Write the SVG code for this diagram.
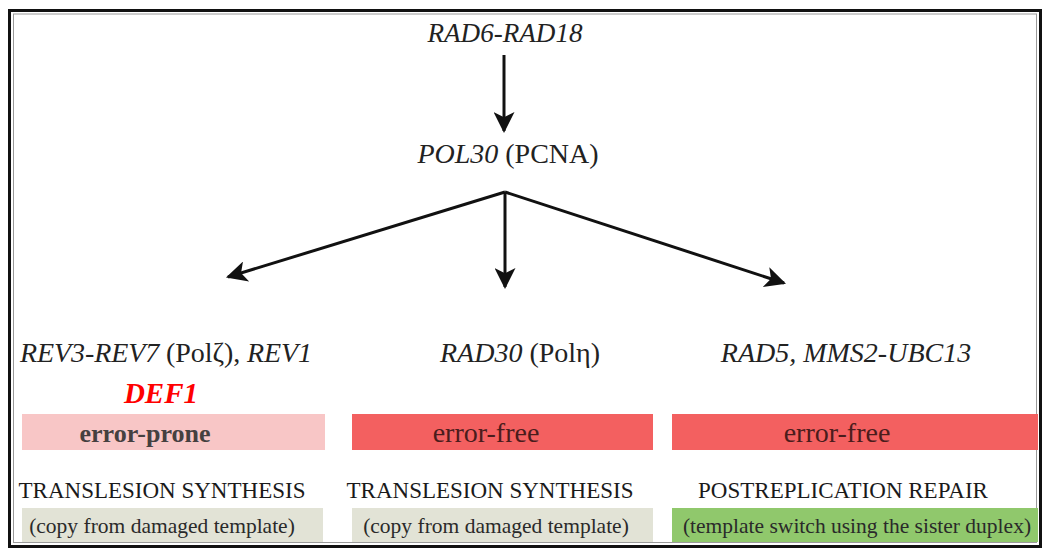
<svg xmlns="http://www.w3.org/2000/svg" width="1045" height="554" viewBox="0 0 1045 554">
<style>
.t{font-family:"Liberation Serif","Times New Roman",serif;fill:#222}
.i{font-style:italic}
.big{font-size:28px}
.cap{font-size:23px;fill:#1a1a1a}
.sub{font-size:21.5px;fill:#2a2a2a}
.ef{font-size:28px;fill:#4a1c1c}
.ln{stroke:#111;stroke-width:3;fill:none}
</style>
<defs>
<marker id="ah" viewBox="0 0 10 10" refX="9" refY="5" markerWidth="7.5" markerHeight="7" markerUnits="strokeWidth" orient="auto">
<path d="M0,0 L10,5 L0,10 L2.5,5 Z" fill="#111"/>
</marker>
</defs>
<rect x="0" y="0" width="1045" height="554" fill="#fff"/>
<rect x="9.5" y="10.5" width="1031" height="536" fill="none" stroke="#111" stroke-width="3"/>
<rect x="13.5" y="14" width="1023" height="528.5" fill="none" stroke="#9a9a9a" stroke-width="1"/>

<g id="connectors">
<line class="ln" x1="504" y1="55" x2="504" y2="131" marker-end="url(#ah)"/>
<line class="ln" x1="505" y1="192" x2="228" y2="277" marker-end="url(#ah)"/>
<line class="ln" x1="505" y1="192" x2="505" y2="287" marker-end="url(#ah)"/>
<line class="ln" x1="505" y1="192" x2="784" y2="283" marker-end="url(#ah)"/>
</g>

<g id="rad6">
<text class="t i big" x="505" y="42" text-anchor="middle" textLength="155" lengthAdjust="spacingAndGlyphs">RAD6-RAD18</text>
</g>
<g id="pol30">
<text class="t big" x="508" y="163" text-anchor="middle"><tspan class="i">POL30</tspan> (PCNA)</text>
</g>

<g id="rev">
<text class="t big" x="166" y="362" text-anchor="middle" textLength="292"><tspan class="i">REV3-REV7</tspan> (Polζ), <tspan class="i">REV1</tspan></text>
<text x="161" y="403" text-anchor="middle" style="font-family:'Liberation Serif',serif;font-weight:bold;font-style:italic;font-size:29px;fill:#f00">DEF1</text>
<rect x="22" y="414" width="303" height="36" fill="#f8c6c6"/>
<text class="t" x="145" y="442" text-anchor="middle" style="font-size:26px;font-weight:bold;fill:#454040">error-prone</text>
<text class="t cap" x="162" y="498" text-anchor="middle">TRANSLESION SYNTHESIS</text>
<rect x="22" y="508" width="301" height="34" fill="#e2e3d6"/>
<text class="t sub" x="162" y="533" text-anchor="middle">(copy from damaged template)</text>
</g>

<g id="rad30">
<text class="t big" x="520" y="362" text-anchor="middle"><tspan class="i">RAD30</tspan> (Polη)</text>
<rect x="352" y="414" width="301" height="36" fill="#f36060"/>
<text class="t ef" x="486" y="442" text-anchor="middle">error-free</text>
<text class="t cap" x="490" y="498" text-anchor="middle">TRANSLESION SYNTHESIS</text>
<rect x="352" y="508" width="301" height="34" fill="#e2e3d6"/>
<text class="t sub" x="496" y="533" text-anchor="middle">(copy from damaged template)</text>
</g>

<g id="rad5">
<text class="t i big" x="846" y="362" text-anchor="middle">RAD5, MMS2-UBC13</text>
<rect x="672" y="414" width="366" height="36" fill="#f36060"/>
<text class="t ef" x="837" y="442" text-anchor="middle">error-free</text>
<text class="t cap" x="843" y="498" text-anchor="middle">POSTREPLICATION REPAIR</text>
<rect x="672" y="508" width="366" height="34" fill="#90c86c"/>
<text class="t sub" x="857" y="533" text-anchor="middle">(template switch using the sister duplex)</text>
</g>
</svg>
